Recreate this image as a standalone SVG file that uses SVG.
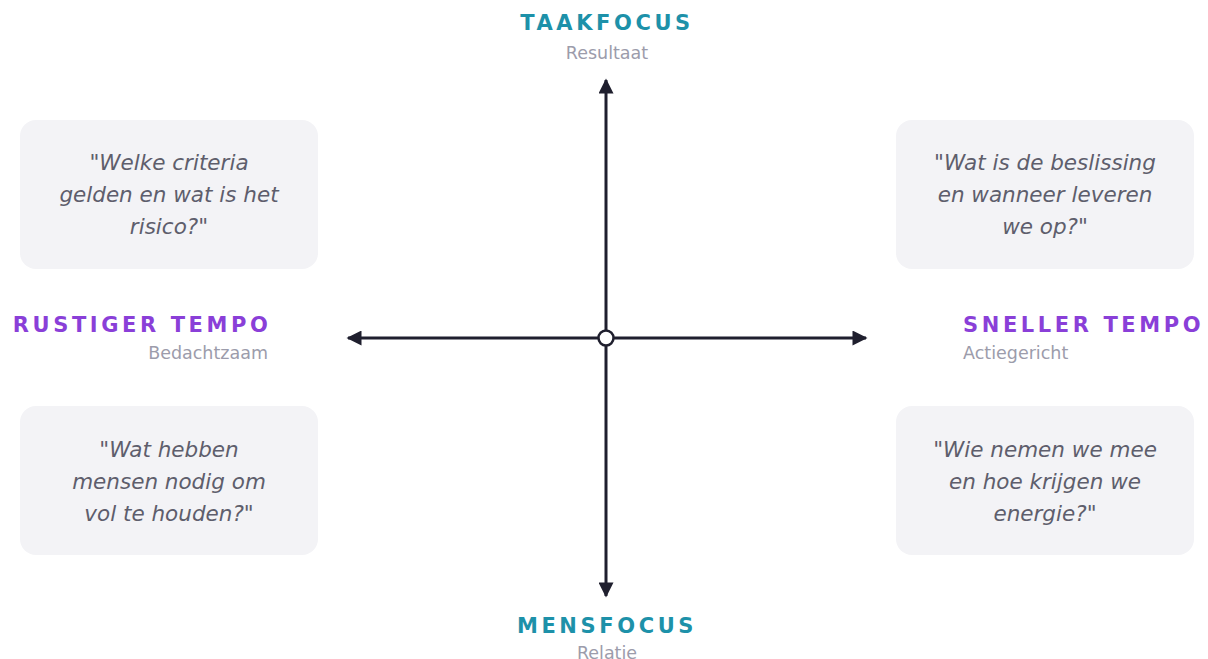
<svg xmlns="http://www.w3.org/2000/svg" width="1208" height="659" viewBox="0 0 1208 659">
<style>
.box{fill:#f3f3f6}
.q{font-family:"DejaVu Sans",sans-serif;font-style:italic;font-size:21.5px;fill:#5e5e6c;text-anchor:middle}
.lt{font-family:"DejaVu Sans",sans-serif;font-weight:bold;font-size:21px;letter-spacing:3.6px}
.teal{fill:#1d91a9}
.purple{fill:#8a3fd8}
.sub{font-family:"DejaVu Sans",sans-serif;font-size:17.5px;fill:#9c9cab}
.axis{stroke:#1f1f2e;stroke-width:3;fill:none}
</style>
<defs>
<marker id="ah" viewBox="0 0 10 10" refX="9" refY="5" markerWidth="5.5" markerHeight="5" orient="auto" markerUnits="strokeWidth">
<path d="M0,0 L10,5 L0,10 z" fill="#1f1f2e"/>
</marker>
</defs>
<rect width="1208" height="659" fill="#ffffff"/>
<g id="connectors">
<line class="axis" x1="606" y1="331" x2="606" y2="80" marker-end="url(#ah)"/>
<line class="axis" x1="606" y1="345" x2="606" y2="596" marker-end="url(#ah)"/>
<line class="axis" x1="599" y1="338" x2="348" y2="338" marker-end="url(#ah)"/>
<line class="axis" x1="613" y1="338" x2="866" y2="338" marker-end="url(#ah)"/>
</g>
<g id="center">
<circle cx="606" cy="338" r="7.5" fill="#ffffff" stroke="#1f1f2e" stroke-width="2.5"/>
</g>
<g id="label-top">
<text class="lt teal" x="607" y="30" text-anchor="middle">TAAKFOCUS</text>
<text class="sub" x="607" y="59" text-anchor="middle">Resultaat</text>
</g>
<g id="label-bottom">
<text class="lt teal" x="607" y="633" text-anchor="middle">MENSFOCUS</text>
<text class="sub" x="607" y="659" text-anchor="middle">Relatie</text>
</g>
<g id="label-left">
<text class="lt purple" x="271.5" y="331.5" text-anchor="end">RUSTIGER TEMPO</text>
<text class="sub" x="268" y="359" text-anchor="end">Bedachtzaam</text>
</g>
<g id="label-right">
<text class="lt purple" x="963" y="331.5">SNELLER TEMPO</text>
<text class="sub" x="963" y="359">Actiegericht</text>
</g>
<g id="box-tl">
<rect class="box" x="20" y="120" width="298" height="149" rx="16"/>
<text class="q" x="169" y="170">"Welke criteria</text>
<text class="q" x="169" y="202">gelden en wat is het</text>
<text class="q" x="169" y="234">risico?"</text>
</g>
<g id="box-tr">
<rect class="box" x="896" y="120" width="298" height="149" rx="16"/>
<text class="q" x="1045" y="170">"Wat is de beslissing</text>
<text class="q" x="1045" y="202">en wanneer leveren</text>
<text class="q" x="1045" y="234">we op?"</text>
</g>
<g id="box-bl">
<rect class="box" x="20" y="406" width="298" height="149" rx="16"/>
<text class="q" x="169" y="457">"Wat hebben</text>
<text class="q" x="169" y="489">mensen nodig om</text>
<text class="q" x="169" y="521">vol te houden?"</text>
</g>
<g id="box-br">
<rect class="box" x="896" y="406" width="298" height="149" rx="16"/>
<text class="q" x="1045" y="457">"Wie nemen we mee</text>
<text class="q" x="1045" y="489">en hoe krijgen we</text>
<text class="q" x="1045" y="521">energie?"</text>
</g>
</svg>
